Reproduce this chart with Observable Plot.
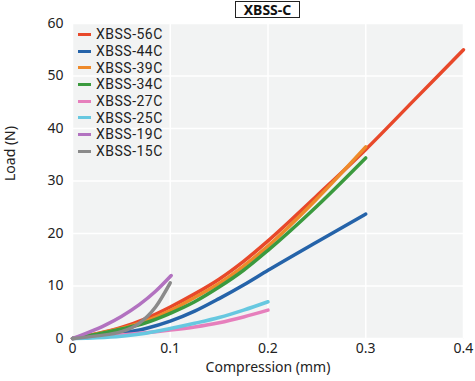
<!DOCTYPE html>
<html>
<head>
<meta charset="utf-8">
<script src="https://cdn.jsdelivr.net/npm/d3@7"></script>
<script src="https://cdn.jsdelivr.net/npm/@observablehq/plot@0.6"></script>
<style>
  html, body { margin: 0; padding: 0; background: #fff; }
  #wrap { position: relative; width: 475px; height: 381px; font-family: "Noto Sans", sans-serif; }
  #title { position: absolute; left: 235px; top: 1px; width: 63px; height: 15px; border: 1px solid #222;
           font: bold 14px "Noto Sans", sans-serif; line-height: 15px; text-align: center; color: #111; }
  #legend { position: absolute; left: 78px; top: 26px; font: 14px Roboto, sans-serif; letter-spacing: 0.5px; color: #222; }
  .item { height: 16.7px; line-height: 16px; display: flex; align-items: center; overflow: visible; }
  .item span { line-height: 16px; }
  .sw { width: 13px; height: 3px; margin-right: 5px; }
</style>
</head>
<body>
<div id="wrap">
  <div id="chart"></div>
  <div id="title">XBSS-C</div>
  <div id="legend"></div>
</div>
<script>
const series = ["XBSS-56C", "XBSS-44C", "XBSS-39C", "XBSS-34C", "XBSS-27C", "XBSS-25C", "XBSS-19C", "XBSS-15C"];
const colors = ["#e8482a", "#2563a9", "#ee8a2a", "#3b9a3e", "#e67fbc", "#67c8e0", "#b272c0", "#8a8a8a"];

const x56 = [0, 0.025, 0.05, 0.075, 0.1, 0.125, 0.15, 0.175, 0.2, 0.25, 0.3, 0.35, 0.4];
const y56 = [0, 0.9, 2.1, 3.8, 6.0, 8.5, 11.3, 14.7, 18.6, 27.2, 36.0, 45.5, 55.0];

const x44 = [0, 0.025, 0.05, 0.075, 0.1, 0.125, 0.15, 0.175, 0.2, 0.25, 0.3];
const y44 = [0, 0.4, 1.0, 1.9, 3.3, 5.2, 7.6, 10.2, 13.0, 18.4, 23.7];

const x39 = [0, 0.025, 0.05, 0.075, 0.1, 0.125, 0.15, 0.175, 0.2, 0.25, 0.3];
const y39 = [0, 0.9, 1.9, 3.3, 5.3, 7.8, 10.5, 13.8, 17.6, 26.6, 36.5];

const x34 = [0, 0.025, 0.05, 0.075, 0.1, 0.125, 0.15, 0.175, 0.2, 0.25, 0.3];
const y34 = [0, 0.8, 1.8, 3.0, 4.8, 7.0, 9.8, 13.0, 16.8, 25.2, 34.4];

const x27 = [0, 0.025, 0.05, 0.075, 0.1, 0.125, 0.15, 0.175, 0.2];
const y27 = [0, 0.3, 0.7, 1.1, 1.6, 2.2, 3.0, 4.1, 5.4];

const x25 = [0, 0.025, 0.05, 0.075, 0.1, 0.125, 0.15, 0.175, 0.2];
const y25 = [0, 0.15, 0.45, 1.0, 1.9, 2.9, 4.0, 5.4, 7.0];

const x19 = [0, 0.017, 0.034, 0.05, 0.068, 0.085, 0.101];
const y19 = [0, 1.2, 2.6, 4.2, 6.4, 9.0, 12.0];

const x15 = [0, 0.025, 0.05, 0.0675, 0.085, 0.1];
const y15 = [0, 0.5, 1.3, 2.8, 6.0, 10.6];

const xs = [x56, x44, x39, x34, x27, x25, x19, x15];
const ys = [y56, y44, y39, y34, y27, y25, y19, y15];

const xTicks = [0, 0.1, 0.2, 0.3, 0.4];
const xTickLabels = ["0", "0.1", "0.2", "0.3", "0.4"];
const yTicks = [0, 10, 20, 30, 40, 50, 60];

const data = [];
series.forEach((s, i) => xs[i].forEach((x, j) => data.push({series: s, x, y: ys[i][j]})));

const chart = Plot.plot({
  width: 475,
  height: 381,
  marginLeft: 72,
  marginRight: 12,
  marginTop: 23,
  marginBottom: 43,
  style: {fontFamily: "Noto Sans, sans-serif", fontSize: "14px", color: "#222", background: "transparent"},
  x: {domain: [0, 0.4], ticks: xTicks, label: null},
  y: {domain: [0, 60], ticks: yTicks, label: null},
  color: {domain: series, range: colors},
  marks: [
    Plot.frame({fill: "#f2f3f3", stroke: null}),
    Plot.gridX(xTicks, {stroke: "#fff", strokeOpacity: 1, strokeWidth: 1.5}),
    Plot.gridY(yTicks, {stroke: "#fff", strokeOpacity: 1, strokeWidth: 1.5}),
    Plot.axisX(xTicks, {tickSize: 0, tickPadding: 5, fontSize: 14, tickFormat: (d) => xTickLabels[xTicks.indexOf(d)], label: null}),
    Plot.axisY(yTicks, {tickSize: 0, tickPadding: 9, fontSize: 14, label: null}),
    Plot.line(data, {x: "x", y: "y", z: "series", stroke: "series", strokeWidth: 3.5, curve: "monotone-x", strokeLinecap: "round"}),
    Plot.text(["Compression (mm)"], {frameAnchor: "bottom", dy: 33, fontSize: 14, fill: "#222"}),
    Plot.text(["Load (N)"], {frameAnchor: "left", dx: -62, rotate: -90, fontSize: 14, fill: "#222"})
  ]
});
document.getElementById("chart").appendChild(chart);

const legend = document.getElementById("legend");
series.forEach((s, i) => {
  const item = document.createElement("div");
  item.className = "item";
  const sw = document.createElement("div");
  sw.className = "sw";
  sw.style.background = colors[i];
  const t = document.createElement("span");
  t.textContent = s;
  item.appendChild(sw);
  item.appendChild(t);
  legend.appendChild(item);
});
</script>
</body>
</html>
